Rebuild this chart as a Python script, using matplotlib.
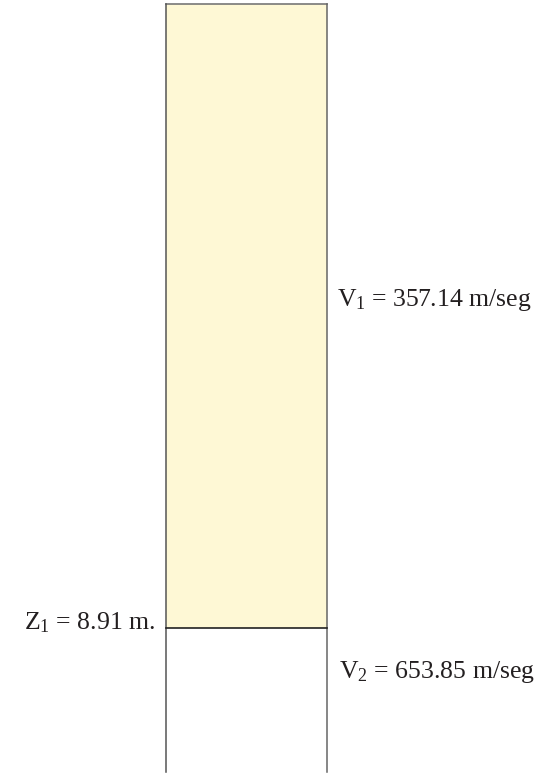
import numpy as np
import matplotlib
matplotlib.use("Agg")
import matplotlib.pyplot as plt

# layer model
layer_names = ["V1", "V2"]
velocities = [357.14, 653.85]      # m/seg
z1 = 8.91                           # interface depth, m
z_bottom = 10.97                    # depth where the drawing stops

plt.rcParams["font.family"] = ["Liberation Serif", "DejaVu Serif"]
plt.rcParams["mathtext.fontset"] = "custom"
plt.rcParams["mathtext.rm"] = "Liberation Serif"
plt.rcParams["mathtext.it"] = "Liberation Serif"

fig = plt.figure(figsize=(5.54, 7.74), dpi=100)
ax = fig.add_axes([0, 0, 1, 1])

# pixel mapping: x=0 -> 166 px, x=1 -> 326.5 px ; depth 0 -> 4 px, z1 -> 628 px
px_per_x = 160.5
px_per_m = (628 - 4) / z1
ax.set_xlim(-166 / px_per_x, (554 - 166) / px_per_x)
ax.set_ylim((774 - 4) / px_per_m, -4 / px_per_m)
ax.axis("off")

# first layer (filled)
ax.fill_between([0, 1], 0, z1, color="#FEF8D5", lw=0)
ax.plot([0, 1], [0, 0], color="#777777", lw=1.2)
ax.plot([0, 0], [0, z_bottom], color="#555555", lw=1.1)
ax.plot([1, 1], [0, z_bottom], color="#666666", lw=1.1)
ax.plot([0, 1], [z1, z1], color="#222222", lw=1.2)

fs = 18.5
ax.text(1.065, 4.23, "V$_1$ = %.2f m/seg" % velocities[0], fontsize=fs,
        ha="left", va="center", color="#231f20")
ax.text(-0.07, z1 - 0.07, "Z$_1$ = %.2f m." % z1, fontsize=fs,
        ha="right", va="center", color="#231f20")
ax.text(1.075, 9.54, "V$_2$ = %.2f m/seg" % velocities[1], fontsize=fs,
        ha="left", va="center", color="#231f20")

fig.savefig("out.png", dpi=100)
